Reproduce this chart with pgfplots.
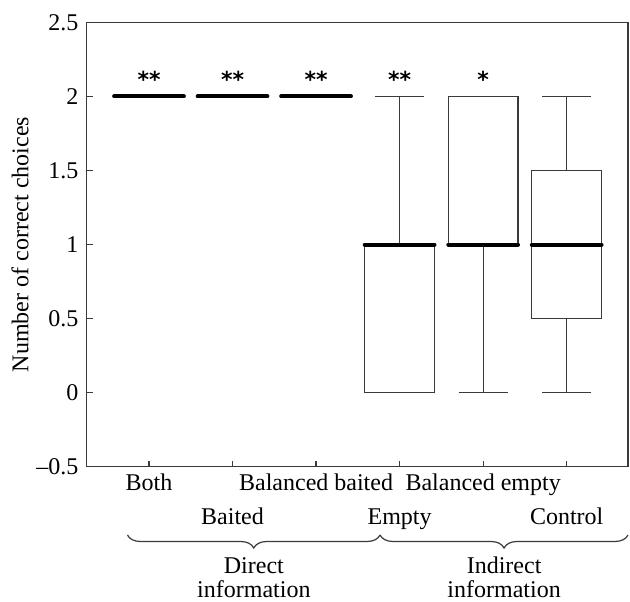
\documentclass[border=0pt,12pt]{standalone}
\usepackage{fontspec}
\setmainfont{Liberation Serif}
\newfontfamily\starfont{DejaVu Sans}
\usepackage{pgfplots}
\pgfplotsset{compat=1.18}
\usepgfplotslibrary{statistics}
\usetikzlibrary{decorations.pathreplacing}
\definecolor{linegray}{HTML}{3A3A3A}

\begin{document}
\begin{tikzpicture}
\begin{axis}[
  scale only axis,
  width=270.65pt, height=222.2pt,
  xmin=0.254, xmax=6.734,
  ymin=-0.5, ymax=2.5,
  clip=false,
  axis line style={linegray, line width=0.6pt},
  tick style={linegray, line width=0.6pt},
  tick align=inside,
  xtick pos=bottom, ytick pos=left,
  major tick length=3pt,
  every tick label/.append style={font=\fontsize{12}{14}\selectfont},
  ytick={-0.5,0,0.5,1,1.5,2,2.5},
  yticklabels={\textendash0.5,0,0.5,1,1.5,2,2.5},
  xtick={1,3,5},
  xticklabels={Both,Balanced baited,Balanced empty},
  extra x ticks={2,4,6},
  extra x tick labels={Baited,Empty,Control},
  xticklabel style={anchor=base, yshift=-12pt},
  extra x tick style={xticklabel style={yshift=-16.65pt}},
  ylabel={Number of correct choices},
  ylabel style={at={(axis description cs:-0.1079,0.5)}, anchor=base, font=\fontsize{12}{14}\selectfont},
  boxplot/draw direction=y,
  boxplot/box extend=0.835,
  boxplot/whisker extend=0.59,
  boxplot/every median/.style={black, line width=2pt, line cap=round},
]
\addplot[linegray, line width=0.6pt, boxplot prepared={draw position=1, median=2, lower quartile=2, upper quartile=2, lower whisker=2, upper whisker=2}] coordinates {};
\addplot[linegray, line width=0.6pt, boxplot prepared={draw position=2, median=2, lower quartile=2, upper quartile=2, lower whisker=2, upper whisker=2}] coordinates {};
\addplot[linegray, line width=0.6pt, boxplot prepared={draw position=3, median=2, lower quartile=2, upper quartile=2, lower whisker=2, upper whisker=2}] coordinates {};
\addplot[linegray, line width=0.6pt, boxplot prepared={draw position=4, median=1, lower quartile=0, upper quartile=1, lower whisker=0, upper whisker=2}] coordinates {};
\addplot[linegray, line width=0.6pt, boxplot prepared={draw position=5, median=1, lower quartile=1, upper quartile=2, lower whisker=0, upper whisker=2}] coordinates {};
\addplot[linegray, line width=0.6pt, boxplot prepared={draw position=6, median=1, lower quartile=0.5, upper quartile=1.5, lower whisker=0, upper whisker=2}] coordinates {};

% significance marks
\node[font=\starfont\bfseries\fontsize{11}{13}\selectfont, anchor=base] at (axis cs:1,2.06) {**};
\node[font=\starfont\bfseries\fontsize{11}{13}\selectfont, anchor=base] at (axis cs:2,2.06) {**};
\node[font=\starfont\bfseries\fontsize{11}{13}\selectfont, anchor=base] at (axis cs:3,2.06) {**};
\node[font=\starfont\bfseries\fontsize{11}{13}\selectfont, anchor=base] at (axis cs:4,2.06) {**};
\node[font=\starfont\bfseries\fontsize{11}{13}\selectfont, anchor=base] at (axis cs:5,2.06) {*};

% group braces
\draw[linegray, line width=0.6pt, decorate, decoration={brace, mirror, amplitude=6.5pt}]
  (axis cs:0.742,-0.961) -- (axis cs:3.766,-0.961);
\draw[linegray, line width=0.6pt, decorate, decoration={brace, mirror, amplitude=6.5pt}]
  (axis cs:3.766,-0.961) -- (axis cs:6.734,-0.961);
\node[anchor=base] at (axis cs:2.255,-1.2175) {Direct};
\node[anchor=base] at (axis cs:2.255,-1.386) {information};
\node[anchor=base] at (axis cs:5.251,-1.2175) {Indirect};
\node[anchor=base] at (axis cs:5.251,-1.386) {information};

\coordinate (sw) at (rel axis cs:0,0);
\coordinate (ne) at (rel axis cs:1,1);
\end{axis}
\pgfresetboundingbox
\path[use as bounding box] ([shift={(-43.35pt,-67.15pt)}]sw) rectangle ([shift={(1pt,11.15pt)}]ne);
\end{tikzpicture}
\end{document}
